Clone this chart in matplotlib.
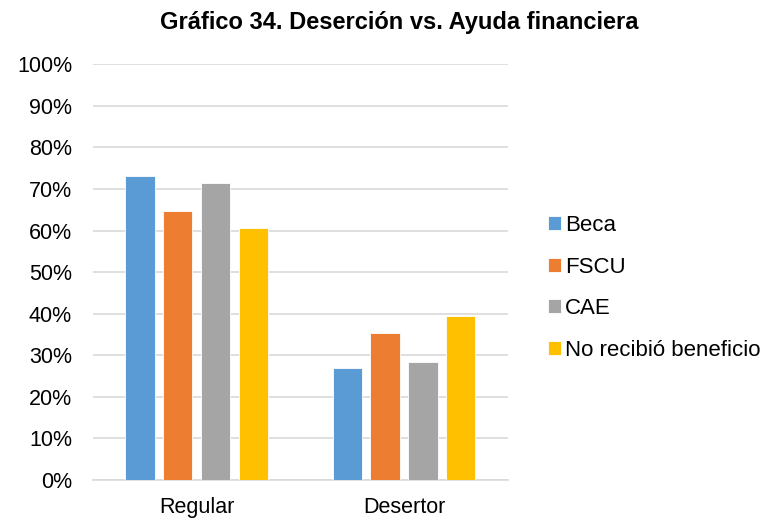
import matplotlib.pyplot as plt
import numpy as np

plt.rcParams['font.family'] = ['Liberation Sans', 'DejaVu Sans']

categorias = ['Regular', 'Desertor']
series = ['Beca', 'FSCU', 'CAE', 'No recibió beneficio']
valores = {
    'Beca': [73.0, 27.0],
    'FSCU': [64.7, 35.3],
    'CAE': [71.5, 28.5],
    'No recibió beneficio': [60.6, 39.4],
}
colores = ['#5B9BD5', '#ED7D31', '#A5A5A5', '#FFC000']

fig = plt.figure(figsize=(7.81, 5.21), dpi=100)
ax = fig.add_axes([0.119, 0.0787, 0.531, 0.798])

x = np.arange(len(categorias))
ancho = 0.142
paso = 0.182
for i, (s, c) in enumerate(zip(series, colores)):
    ax.bar(x + (i - 1.5) * paso, valores[s], ancho, color=c, label=s, zorder=3,
           edgecolor='white', linewidth=0.6)

ax.set_xlim(-0.5, 1.5)
ax.set_ylim(0, 100)
ax.set_yticks(np.arange(0, 101, 10))
ax.set_yticklabels([f'{v}%' for v in range(0, 101, 10)])
ax.set_xticks(x)
ax.set_xticklabels(categorias)
ax.grid(axis='y', color='#D9D9D9', linewidth=1.2, zorder=0)
for sp in ['top', 'right', 'left']:
    ax.spines[sp].set_visible(False)
ax.spines['bottom'].set_color('#D9D9D9')
ax.spines['bottom'].set_linewidth(1.2)
ax.tick_params(axis='both', length=0, labelsize=15.5, colors='black')
ax.tick_params(axis='y', pad=15)
ax.tick_params(axis='x', pad=12)

fig.suptitle('Gráfico 34. Deserción vs. Ayuda financiera', x=0.511, y=0.978,
             fontsize=17, fontweight='bold')

ax.legend(loc='center left', bbox_to_anchor=(1.075, 0.462), frameon=False,
          fontsize=16, handlelength=0.58, handleheight=0.58, handletextpad=0.2,
          labelspacing=0.93, borderaxespad=0)

fig.savefig('out.png', dpi=100)
